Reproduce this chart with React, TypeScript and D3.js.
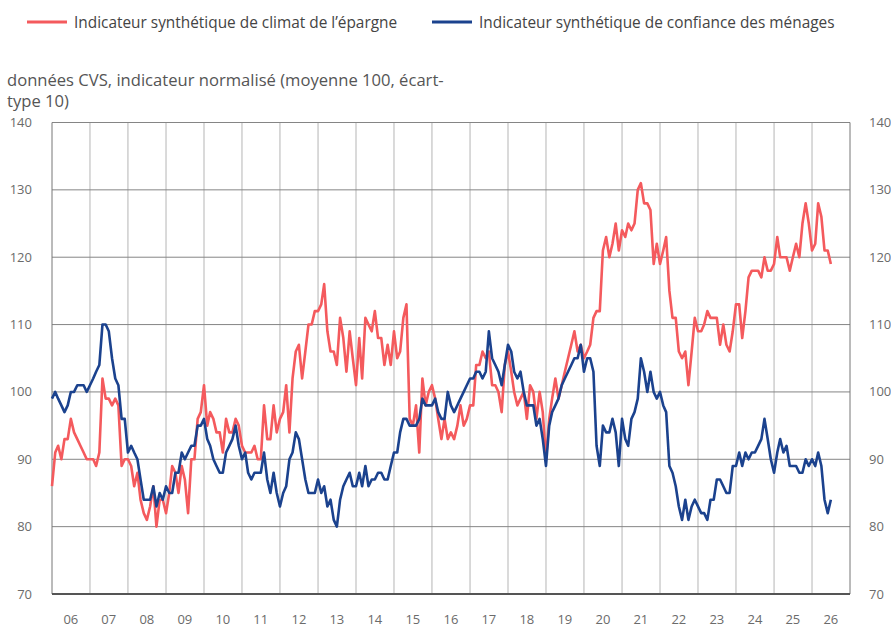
import { useEffect, useRef } from 'react';
import * as d3 from 'd3';

// monthly series, first point = January 2006
const savingsClimate = [
  86, 91, 92, 90, 93, 93, 96, 94, 93, 92,
  91, 90, 90, 90, 89, 91, 102, 99, 99, 98,
  99, 98, 89, 90, 90, 89, 86, 88, 84, 82,
  81, 83, 86, 80, 84, 84, 82, 85, 89, 88,
  85, 89, 87, 82, 90, 90, 96, 97, 101, 95,
  97, 96, 94, 94, 91, 96, 94, 94, 96, 95,
  92, 91, 91, 91, 92, 90, 90, 98, 93, 93,
  98, 94, 96, 97, 101, 94, 102, 106, 107, 102,
  106, 110, 110, 112, 112, 113, 116, 109, 106, 106,
  104, 111, 108, 103, 109, 105, 101, 108, 102, 111,
  110, 109, 112, 108, 108, 104, 107, 104, 109, 105,
  106, 111, 113, 96, 95, 98, 91, 102, 98, 100,
  101, 99, 96, 93, 96, 93, 94, 93, 95, 98,
  95, 96, 98, 98, 104, 104, 106, 105, 106, 101,
  101, 100, 97, 104, 106, 103, 100, 98, 99, 100,
  96, 101, 100, 96, 100, 97, 90, 96, 99, 102,
  99, 101, 103, 105, 107, 109, 106, 107, 105, 106,
  107, 111, 112, 112, 121, 123, 120, 122, 125, 121,
  124, 123, 125, 124, 125, 130, 131, 128, 128, 127,
  119, 122, 119, 121, 123, 115, 111, 111, 106, 105,
  106, 101, 106, 111, 109, 109, 110, 112, 111, 111,
  111, 107, 110, 107, 106, 109, 113, 113, 108, 112,
  117, 118, 118, 118, 117, 120, 118, 118, 119, 123,
  120, 120, 120, 118, 120, 122, 120, 125, 128, 125,
  121, 122, 128, 126, 121, 121, 119,
];

const householdConfidence = [
  99, 100, 99, 98, 97, 98, 100, 100, 101, 101,
  101, 100, 101, 102, 103, 104, 110, 110, 109, 105,
  102, 101, 96, 96, 91, 92, 91, 90, 87, 84,
  84, 84, 86, 83, 85, 84, 86, 85, 85, 88,
  88, 91, 90, 91, 92, 92, 95, 95, 96, 93,
  92, 90, 89, 88, 88, 91, 92, 93, 95, 92,
  90, 91, 88, 87, 88, 88, 88, 91, 87, 85,
  88, 85, 83, 85, 86, 90, 91, 94, 93, 90,
  87, 85, 85, 85, 87, 85, 86, 83, 84, 81,
  80, 84, 86, 87, 88, 86, 86, 88, 86, 89,
  86, 87, 87, 88, 88, 87, 87, 89, 91, 91,
  94, 96, 96, 95, 95, 95, 96, 99, 98, 98,
  98, 99, 97, 96, 96, 100, 98, 97, 98, 99,
  100, 101, 102, 102, 103, 103, 102, 103, 109, 105,
  104, 103, 101, 104, 107, 106, 103, 102, 103, 100,
  98, 98, 98, 95, 96, 93, 89, 95, 97, 98,
  99, 101, 102, 103, 104, 105, 105, 107, 103, 105,
  105, 103, 92, 89, 95, 94, 94, 96, 94, 89,
  96, 93, 92, 96, 97, 99, 105, 103, 100, 103,
  100, 99, 100, 98, 97, 89, 88, 86, 83, 81,
  84, 81, 83, 84, 83, 82, 82, 81, 84, 84,
  87, 87, 86, 85, 85, 89, 89, 91, 89, 91,
  90, 91, 91, 92, 93, 96, 93, 90, 88, 91,
  93, 91, 92, 89, 89, 89, 88, 88, 90, 89,
  90, 89, 91, 89, 84, 82, 84,
];

const yTicks = [70, 80, 90, 100, 110, 120, 130, 140];
const years = d3.range(2006, 2027);
const yearLabels = years.map(y => String(y).slice(2));

const series = [
  { name: 'Indicateur synthétique de climat de l’épargne', values: savingsClimate, color: '#f45a5d' },
  { name: 'Indicateur synthétique de confiance des ménages', values: householdConfidence, color: '#1b428e' },
];

const FONT = '"Open Sans", "DejaVu Sans", sans-serif';

export default function App() {
  const svgRef = useRef<SVGSVGElement | null>(null);

  useEffect(() => {
    if (!svgRef.current) return;
    const svg = d3.select(svgRef.current);
    svg.selectAll('*').remove();

    const plot = { left: 52, right: 850, top: 122.5, bottom: 594 };

    const x = d3.scaleTime()
      .domain([new Date(2006, 0, 1), new Date(2027, 0, 1)])
      .range([plot.left, plot.right]);

    const y = d3.scaleLinear()
      .domain([70, 140])
      .range([plot.bottom, plot.top]);

    const monthDate = (i: number) => new Date(2006, i, 1);

    // vertical grid at each new year
    svg.append('g')
      .selectAll('line')
      .data(years.slice(1))
      .enter()
      .append('line')
      .attr('x1', d => x(new Date(d, 0, 1)))
      .attr('x2', d => x(new Date(d, 0, 1)))
      .attr('y1', plot.top)
      .attr('y2', plot.bottom)
      .attr('stroke', '#b5b5b5')
      .attr('stroke-width', 1);

    // horizontal grid
    svg.append('g')
      .selectAll('line')
      .data(yTicks.filter(t => t > 70))
      .enter()
      .append('line')
      .attr('x1', plot.left)
      .attr('x2', plot.right)
      .attr('y1', d => y(d))
      .attr('y2', d => y(d))
      .attr('stroke', '#858585')
      .attr('stroke-width', 1);

    // side borders
    [plot.left, plot.right].forEach(px => {
      svg.append('line')
        .attr('x1', px).attr('x2', px)
        .attr('y1', plot.top).attr('y2', plot.bottom)
        .attr('stroke', '#777')
        .attr('stroke-width', 1);
    });

    // bottom axis
    svg.append('line')
      .attr('x1', plot.left)
      .attr('x2', plot.right)
      .attr('y1', plot.bottom)
      .attr('y2', plot.bottom)
      .attr('stroke', '#555')
      .attr('stroke-width', 2);

    // y labels on both sides, year labels below
    const tickText = svg.append('g')
      .style('font-family', FONT)
      .style('font-size', '13px')
      .style('fill', '#6b6b6b');

    tickText.selectAll('.yl')
      .data(yTicks)
      .enter()
      .append('text')
      .attr('x', 32)
      .attr('y', d => y(d))
      .attr('dy', '0.35em')
      .attr('text-anchor', 'end')
      .text(d => d);

    tickText.selectAll('.yr')
      .data(yTicks)
      .enter()
      .append('text')
      .attr('x', 869)
      .attr('y', d => y(d))
      .attr('dy', '0.35em')
      .attr('text-anchor', 'start')
      .text(d => d);

    tickText.selectAll('.xl')
      .data(years)
      .enter()
      .append('text')
      .attr('x', d => x(new Date(d, 6, 1)))
      .attr('y', 619)
      .attr('dy', '0.35em')
      .attr('text-anchor', 'middle')
      .text((d, i) => yearLabels[i]);

    // lines
    const line = d3.line<number>()
      .x((d, i) => x(monthDate(i)))
      .y(d => y(d));

    series.forEach(s => {
      svg.append('path')
        .datum(s.values)
        .attr('fill', 'none')
        .attr('stroke', s.color)
        .attr('stroke-width', 2.6)
        .attr('stroke-linejoin', 'round')
        .attr('d', line);
    });

    // legend
    const legendPos = [{ x1: 27, tx: 74 }, { x1: 432, tx: 479 }];
    series.forEach((s, i) => {
      svg.append('line')
        .attr('x1', legendPos[i].x1)
        .attr('x2', legendPos[i].x1 + 40)
        .attr('y1', 22)
        .attr('y2', 22)
        .attr('stroke', s.color)
        .attr('stroke-width', 3);
      svg.append('text')
        .attr('x', legendPos[i].tx)
        .attr('y', 27.5)
        .style('font-family', FONT)
        .style('font-size', '15.4px')
        .style('fill', '#444')
        .text(s.name);
    });

    // unit note
    const note = svg.append('text')
      .style('font-family', FONT)
      .style('font-size', '16.6px')
      .style('fill', '#555');
    note.append('tspan').attr('x', 7).attr('y', 86)
      .text('données CVS, indicateur normalisé (moyenne 100, écart-');
    note.append('tspan').attr('x', 7).attr('y', 107)
      .text('type 10)');
  }, []);

  return (
    <div style={{ position: 'absolute', left: 0, top: 0, background: '#fff' }}>
      <svg ref={svgRef} width={891} height={628} style={{ display: 'block' }} />
    </div>
  );
}
